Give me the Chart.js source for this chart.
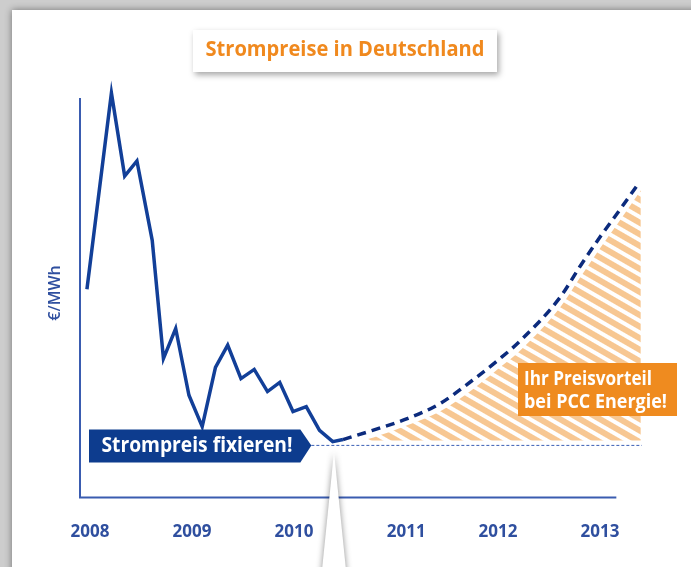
<!DOCTYPE html>
<html>
<head>
<meta charset="utf-8">
<script src="https://cdn.jsdelivr.net/npm/chart.js@4.4.1/dist/chart.umd.min.js"></script>
<style>
  html, body { margin: 0; padding: 0; width: 691px; height: 567px; overflow: hidden; background: #cdcdcd; }
  #panel { position: absolute; left: 12px; top: 10px; width: 720px; height: 600px; background: #fff;
           box-shadow: 0 0 7px rgba(0,0,0,0.45); }
  #chart { position: absolute; left: 0; top: 0; }
</style>
</head>
<body>
<div id="panel"></div>
<canvas id="chart" width="691" height="567"></canvas>
<script>
// price history (year fraction, EUR/MWh, y axis has no scale in the original)
var histYears  = [2007.97, 2008.21, 2008.34, 2008.46, 2008.61, 2008.72, 2008.84, 2008.97, 2009.10, 2009.23,
                  2009.35, 2009.48, 2009.61, 2009.74, 2009.86, 2009.99, 2010.12, 2010.25, 2010.38, 2010.48];
var histPrices = [49.9, 96.9, 77.0, 80.6, 61.6, 33.3, 40.5, 24.5, 17.0, 31.2,
                  36.5, 28.5, 30.7, 25.4, 27.6, 20.6, 21.8, 16.1, 13.4, 13.9];

// expected rise (dashed)
var forecastYears  = [2010.48, 2010.77, 2011.11, 2011.43, 2011.75, 2012.02, 2012.22, 2012.61, 2012.80, 2013.00, 2013.17, 2013.36];
var forecastPrices = [13.9, 16.1, 18.9, 22.5, 28.1, 33.3, 37.6, 48.0, 55.2, 62.4, 68.1, 74.6];

// hatched advantage area (top edge, floor)
var hatchYears = [2010.67, 2010.78, 2011.11, 2011.43, 2011.75, 2012.02, 2012.22, 2012.61, 2012.80, 2013.00, 2013.17, 2013.40];
var hatchTop   = [13.7, 14.4, 17.3, 20.6, 25.9, 31.2, 35.3, 45.6, 52.5, 59.7, 65.5, 73.6];
var hatchFloor = 13.7;

// fixed price line
var fixedYears = [2010.17, 2013.41];
var fixedPrice = 12.5;

// x tick labels
var tickYears  = [2008, 2009, 2010, 2011.1, 2012, 2013];
var tickLabels = ['2008', '2009', '2010', '2011', '2012', '2013'];

var axisTop = 95.7;
var axisEnd = 2013.16;

var FONT = '"Open Sans", "Noto Sans", sans-serif';
var blue = '#2f4f9f';

function pts(xs, ys) {
  var out = [];
  for (var i = 0; i < xs.length; i++) out.push({x: xs[i], y: Array.isArray(ys) ? ys[i] : ys});
  return out;
}

function fitText(ctx, text, x, y, size, weight, color, maxW, align) {
  ctx.font = weight + ' ' + size + 'px ' + FONT;
  var w = ctx.measureText(text).width;
  var s = Math.min(1, maxW / w);
  ctx.save();
  ctx.translate(x, y);
  ctx.scale(s, 1);
  ctx.fillStyle = color;
  ctx.textAlign = align || 'center';
  ctx.textBaseline = 'middle';
  ctx.fillText(text, 0, 0);
  ctx.restore();
}

const ctx = document.getElementById('chart').getContext('2d');

// diagonal stripes
var tile = document.createElement('canvas');
tile.width = 10; tile.height = 10;
var tg = tile.getContext('2d');
tg.fillStyle = '#f7c792';
tg.fillRect(0, 0, 10, 6);
var stripes = ctx.createPattern(tile, 'repeat');
stripes.setTransform(new DOMMatrix().rotateSelf(30));

const extras = {
  id: 'extras',
  beforeDatasetsDraw(chart) {
    const c = chart.ctx, xs = chart.scales.x, ys = chart.scales.y;
    const x0 = xs.getPixelForValue(xs.min), y0 = ys.getPixelForValue(0);
    c.save();
    c.strokeStyle = '#3a5cb0';
    c.lineWidth = 2;
    c.beginPath();
    c.moveTo(x0, ys.getPixelForValue(axisTop));
    c.lineTo(x0, y0);
    c.lineTo(xs.getPixelForValue(axisEnd), y0);
    c.stroke();
    c.restore();
  },
  afterDraw(chart) {
    const c = chart.ctx, xs = chart.scales.x, ys = chart.scales.y;

    // y label
    c.save();
    c.translate(55, 293);
    c.rotate(-Math.PI / 2);
    fitText(c, '€/MWh', 0, 0, 16, '600', blue, 61);
    c.restore();

    // title box
    c.save();
    c.shadowColor = 'rgba(0,0,0,0.35)';
    c.shadowBlur = 6;
    c.shadowOffsetX = 2;
    c.shadowOffsetY = 3;
    c.fillStyle = '#fff';
    c.fillRect(193, 30, 304, 42);
    c.restore();
    fitText(c, 'Strompreise in Deutschland', 345, 50, 21, 'bold', '#f0891e', 279);

    // banner pointing at the fixed price line
    const tx = xs.getPixelForValue(fixedYears[0]);
    const ty = ys.getPixelForValue(fixedPrice);
    c.save();
    c.fillStyle = '#0d3c8e';
    c.beginPath();
    c.moveTo(89, ty - 16);
    c.lineTo(tx - 11, ty - 16);
    c.lineTo(tx, ty);
    c.lineTo(tx - 11, ty + 17);
    c.lineTo(89, ty + 17);
    c.closePath();
    c.fill();
    c.restore();
    fitText(c, 'Strompreis fixieren!', 197, ty + 1, 21, 'bold', '#fff', 191);

    // orange callout
    c.save();
    c.fillStyle = '#ef8b1f';
    c.fillRect(518, 363, 159, 53);
    c.restore();
    fitText(c, 'Ihr Preisvorteil', 524, 379, 20, 'bold', '#fff', 128, 'left');
    fitText(c, 'bei PCC Energie!', 524, 402, 20, 'bold', '#fff', 143, 'left');

    // white pointer wedge at the bottom
    c.save();
    c.shadowColor = 'rgba(0,0,0,0.45)';
    c.shadowBlur = 6;
    c.fillStyle = '#fff';
    c.beginPath();
    c.moveTo(334, 452);
    c.lineTo(347, 580);
    c.lineTo(321, 580);
    c.closePath();
    c.fill();
    c.restore();
  }
};

const myChart = new Chart(ctx, {
  type: 'line',
  data: {
    datasets: [{
      data: pts(histYears, histPrices),
      borderColor: '#123f98',
      borderWidth: 3.5,
      pointRadius: 0,
      tension: 0,
      borderJoinStyle: 'miter',
      fill: false
    }, {
      data: pts(forecastYears, forecastPrices),
      borderColor: '#0c2b7d',
      borderWidth: 3.5,
      borderDash: [9, 6],
      pointRadius: 0,
      cubicInterpolationMode: 'monotone',
      fill: false
    }, {
      data: pts(fixedYears, fixedPrice),
      borderColor: '#3a5fb5',
      borderWidth: 1,
      borderDash: [3, 2],
      pointRadius: 0,
      fill: false
    }, {
      data: pts(hatchYears, hatchTop),
      borderWidth: 0,
      borderColor: 'rgba(0,0,0,0)',
      backgroundColor: stripes,
      pointRadius: 0,
      cubicInterpolationMode: 'monotone',
      fill: {value: hatchFloor}
    }]
  },
  options: {
    responsive: false,
    animation: false,
    devicePixelRatio: 1,
    layout: { padding: { left: 80, right: 41, top: 80, bottom: 1 } },
    plugins: { legend: { display: false }, tooltip: { enabled: false } },
    scales: {
      x: {
        type: 'linear',
        min: 2007.902,
        max: 2013.49,
        grid: { display: false, drawTicks: false },
        border: { display: false },
        afterBuildTicks: function(scale) {
          scale.ticks = tickYears.map(function(v) { return {value: v}; });
        },
        ticks: {
          autoSkip: false,
          maxRotation: 0,
          padding: 24,
          color: blue,
          font: { family: FONT, size: 17, weight: 'bold' },
          callback: function(value, index) { return tickLabels[index]; }
        }
      },
      y: {
        display: false,
        min: 0,
        max: 100
      }
    }
  },
  plugins: [extras]
});
</script>
</body>
</html>
